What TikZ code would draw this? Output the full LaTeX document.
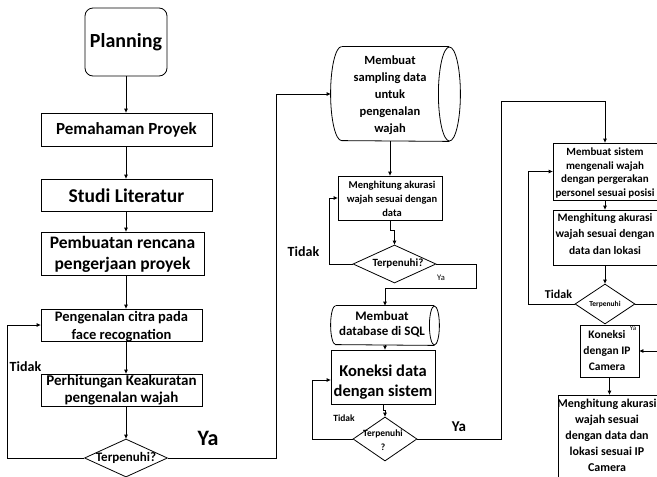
\documentclass[tikz,border=0pt]{standalone}
\usepackage{fontspec}
\setmainfont{Carlito}
\usetikzlibrary{arrows.meta,shapes.geometric}
\newcommand\fsz[2]{\fontsize{#1}{#2}\selectfont}
\begin{document}
\begin{tikzpicture}[x=1pt,y=-1pt,line width=0.8pt,
  >={Triangle[length=4pt,width=3.5pt]},
  box/.style={draw, rectangle, inner sep=0pt},
  dia/.style={draw, diamond, inner sep=0pt},
  cyl/.style={rectangle, inner sep=0pt},
  txt/.style={inner sep=0pt, align=center},
  bf/.style 2 args={font=\bfseries\fsz{#1}{#2}},
  nf/.style 2 args={font=\fsz{#1}{#2}}]
\useasboundingbox (0,0) rectangle (657,477);
\clip (0,0) rectangle (657,477);
% ---------- column 1 ----------
\node[box, rounded corners=8pt, minimum width=82, minimum height=68] (plan) at (126,42) {};
\node[box, minimum width=171, minimum height=33] (pem) at (126.5,129.5) {};
\node[box, minimum width=171, minimum height=32] (stu) at (126.5,195) {};
\node[box, minimum width=163, minimum height=43] (ren) at (122.5,253.5) {};
\node[box, minimum width=161, minimum height=32] (pen) at (121.5,325) {};
\node[box, minimum width=161, minimum height=32] (per) at (121.5,390) {};
\node[dia, minimum width=83, minimum height=38] (d1) at (126,458) {};
\node[txt, bf={20}{24}] (plant) at (126,42) {Planning};
\node[txt, bf={17}{20}] (pemt) at (126.5,130) {Pemahaman Proyek};
\node[txt, bf={19.5}{22}] (stut) at (126.5,195.5) {Studi Literatur};
\node[txt, bf={17.5}{21}] (rent) at (122.5,254) {Pembuatan rencana\\pengerjaan proyek};
\node[txt, bf={14.5}{18}] (pent) at (121.5,327) {Pengenalan citra pada\\face recognation};
\node[txt, bf={15}{16.5}] (pert) at (121.5,390) {Perhitungan Keakuratan\\pengenalan wajah};
\node[txt, bf={13}{14}] (d1t) at (126,458) {Terpenuhi?};
\node[txt, bf={14}{15}] (tidak1) at (25.5,367) {Tidak};
\node[txt, bf={22}{24}] (ya1) at (208,438) {Ya};
\draw[->] (plan.south) -- (plan.south |- pem.north);
\draw[->] (pem.south -| plan.south) -- (stu.north -| plan.south);
\draw[->] (stu.south -| plan.south) -- (ren.north -| plan.south);
\draw[->] (ren.south -| plan.south) -- (pen.north -| plan.south);
\draw[->] (pen.south -| plan.south) -- (per.north -| plan.south);
\draw[->] (per.south -| plan.south) -- (d1.north);
\coordinate (t1) at (7,458);
\draw[->] (d1.west) -- (t1) |- (pen.west);
% ---------- column 2 ----------
\node[cyl, minimum width=129, minimum height=94] (c1) at (395.5,94) {};
\draw ([xshift=11pt]c1.north west) arc[start angle=90, end angle=270, x radius=11pt, y radius=47pt]
      -- ([xshift=-11pt]c1.south east);
\draw ([xshift=11pt]c1.north west) -- ([xshift=-11pt]c1.north east);
\draw ([xshift=-11pt]c1.east) ellipse [x radius=11pt, y radius=47pt];
\node[txt, bf={12.5}{17}] (c1t) at (390,95) {Membuat\\sampling data\\untuk\\pengenalan\\wajah};
\coordinate (y1) at (276,94);
\draw[->] (d1.east) -| (y1) -- (c1.west);
\node[box, minimum width=104, minimum height=44] (m1) at (390,198) {};
\node[txt, bf={10.5}{14}] (m1t) at (392,199) {Menghitung akurasi\\wajah sesuai dengan\\data};
\draw[->] (c1.south -| m1.north) -- (m1.north);
\node[dia, minimum width=83, minimum height=38] (d2) at (394.5,264) {};
\node[txt, bf={11}{12}] (d2t) at (398,263.5) {Terpenuhi?};
\draw[->] (m1.south) -- ++(0,10) -| (d2.north);
\coordinate (t2) at (329,264);
\draw[->] (d2.west) -- (t2) |- (m1.west);
\node[txt, bf={14}{15}] (tidak2) at (303.5,252) {Tidak};
\node[cyl, minimum width=108, minimum height=39] (c2) at (385,325.5) {};
\draw ([xshift=5pt]c2.north west) arc[start angle=90, end angle=270, x radius=5pt, y radius=19.5pt]
      -- ([xshift=-5pt]c2.south east);
\draw ([xshift=5pt]c2.north west) -- ([xshift=-5pt]c2.north east);
\draw ([xshift=-5pt]c2.east) ellipse [x radius=5pt, y radius=19.5pt];
\node[txt, bf={13}{15.5}] (c2t) at (382,324.5) {Membuat\\database di SQL};
\coordinate (y2) at (476,288);
\draw[->] (d2.east) -| (y2) -| (c2.north);
\node[txt, nf={8.5}{10}] (ya2) at (441,278) {Ya};
\node[box, minimum width=104, minimum height=54] (k1) at (383,377) {};
\node[txt, bf={16.5}{20.5}] (k1t) at (383,382) {Koneksi data\\dengan sistem};
\draw[->] (c2.south) -- (c2.south |- k1.north);
\node[dia, minimum width=64, minimum height=44] (d3) at (385,439) {};
\node[txt, bf={9.5}{14}] (d3t) at (383,440) {Terpenuhi\\?};
\draw[->] (k1.south) -- ++(0,6) -| (d3.north);
\coordinate (t3) at (312,439);
\draw[->] (d3.west) -- (t3) |- ([yshift=-3pt]k1.west);
\node[txt, bf={9.5}{11}] (tidak3) at (344,418) {Tidak};
\node[txt, bf={15}{17}] (ya3) at (459,427) {Ya};
% ---------- column 3 ----------
\node[box, minimum width=104, minimum height=57] (s1) at (605,171.5) {};
\node[txt, bf={11}{13.5}] (s1t) at (605,173) {Membuat sistem\\mengenali wajah\\dengan pergerakan\\personel sesuai posisi};
\coordinate (y3) at (501,101);
\draw[->] (d3.east) -| (y3) -| (s1.north);
\node[box, minimum width=104, minimum height=55] (s2) at (605,237.5) {};
\node[txt, bf={11.5}{16.5}] (s2t) at (605,234) {Menghitung akurasi\\wajah sesuai dengan\\data dan lokasi};
\draw[->] (s1.south) -- (s2.north);
\node[dia, minimum width=60, minimum height=40] (d4) at (605,304) {};
\node[txt, bf={7.5}{8}] (d4t) at (605,304) {Terpenuhi};
\draw[->] (s2.south) -- (d4.north);
\coordinate (t4) at (528,304);
\draw[->] (d4.west) -- (t4) |- (s1.west);
\node[txt, bf={12}{13}] (tidak4) at (558.5,294) {Tidak};
\node[box, minimum width=59, minimum height=52] (k2) at (609.5,351) {};
\node[txt, bf={11.5}{16}] (k2t) at (607,351) {Koneksi\\dengan IP\\Camera};
\coordinate (y4a) at (662,304);
\coordinate (y4b) at (662,351);
\draw[->] (d4.east) -- (y4a) -- (y4b) -- (k2.east);
\node[txt, nf={7}{8}] (ya4) at (633,328) {Ya};
\node[box, minimum width=102, minimum height=105] (k3) at (609,447.5) {};
\node[txt, bf={12}{16}] (k3t) at (607,435.5) {Menghitung akurasi\\wajah sesuai\\dengan data dan\\lokasi sesuai IP\\Camera};
\draw[->] (k2.south) -- (k2.south |- k3.north);
\end{tikzpicture}
\end{document}
